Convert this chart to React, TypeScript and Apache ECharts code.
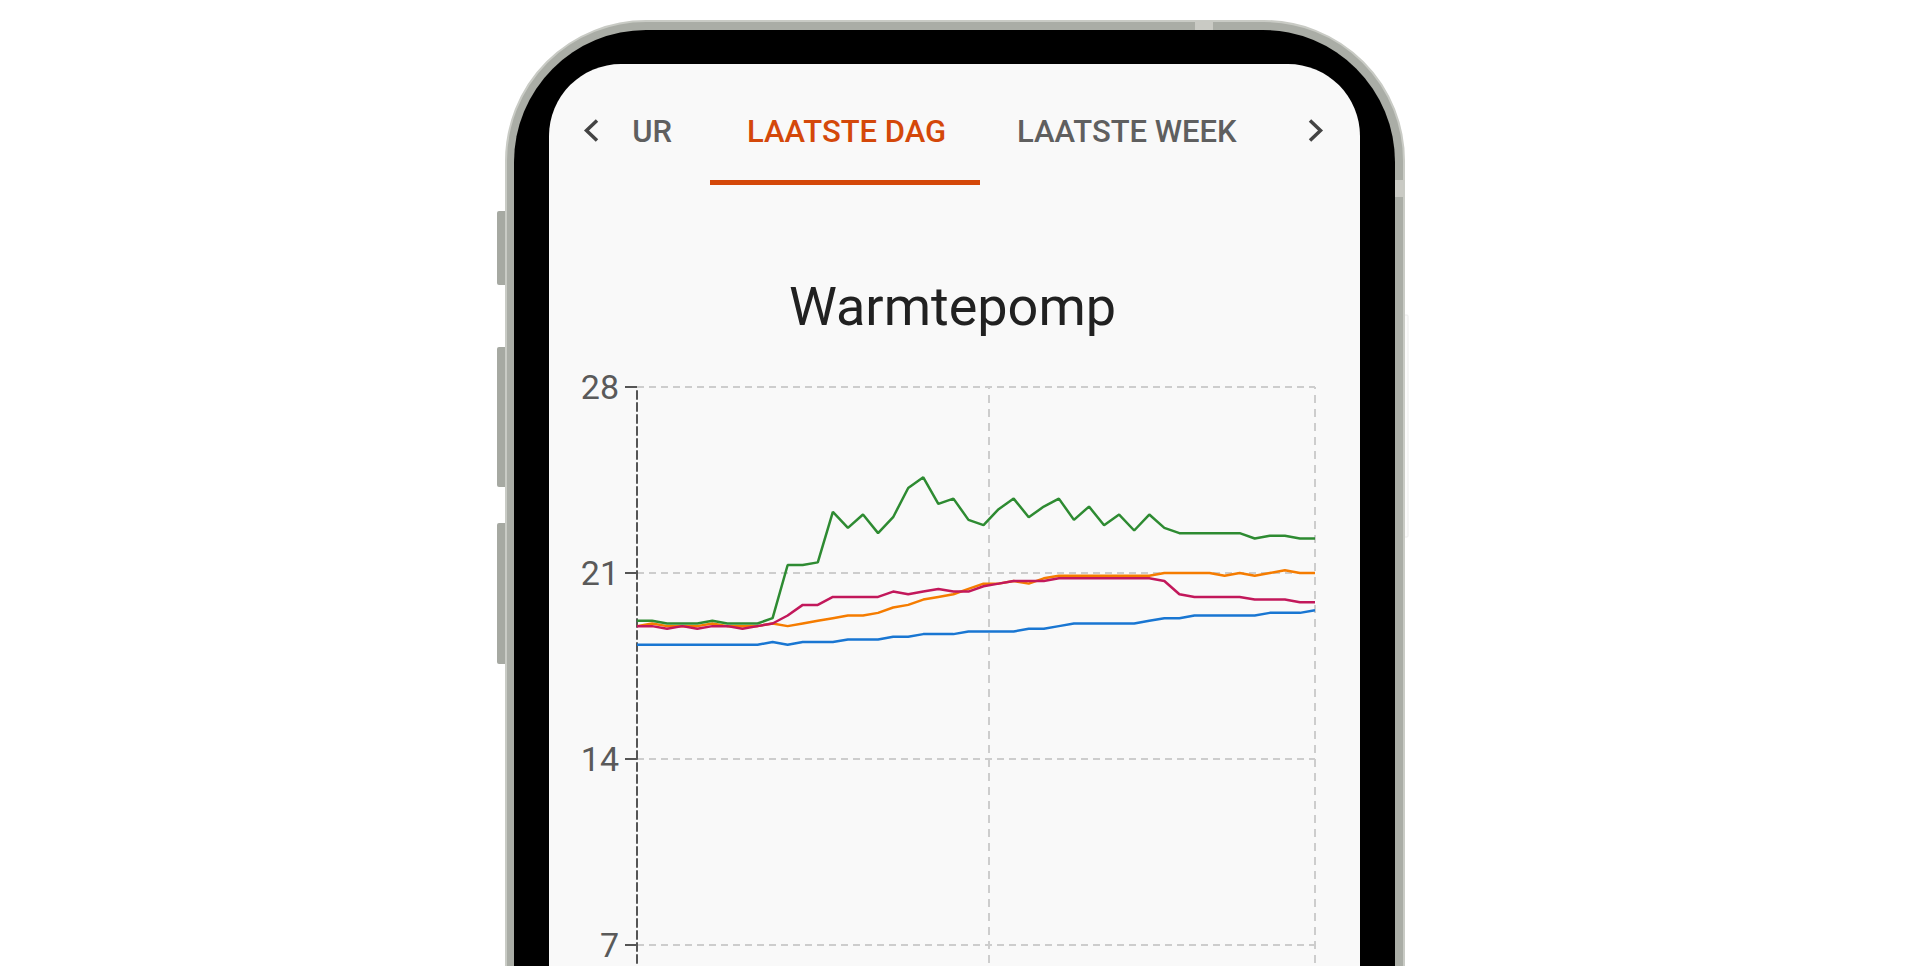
import React, { useEffect, useRef } from 'react';
import * as echarts from 'echarts';

// Sample times (30 min apart, rolling over midnight)
const times = [
  '12:20', '12:50', '13:20', '13:50', '14:20', '14:50', '15:20', '15:50', '16:20', '16:50',
  '17:20', '17:50', '18:20', '18:50', '19:20', '19:50', '20:20', '20:50', '21:20', '21:50',
  '22:20', '22:50', '23:20', '23:50', '00:20', '00:50', '01:20', '01:50', '02:20', '02:50',
  '03:20', '03:50', '04:20', '04:50', '05:20', '05:50', '06:20', '06:50', '07:20', '07:50',
  '08:20', '08:50', '09:20', '09:50', '10:20', '10:50',
];

const greenValues = [
  19.2, 19.2, 19.1, 19.1, 19.1, 19.2, 19.1, 19.1, 19.1, 19.3,
  21.3, 21.3, 21.4, 23.3, 22.7, 23.2, 22.5, 23.1, 24.2, 24.6,
  23.6, 23.8, 23.0, 22.8, 23.4, 23.8, 23.1, 23.5, 23.8, 23.0,
  23.5, 22.8, 23.2, 22.6, 23.2, 22.7, 22.5, 22.5, 22.5, 22.5,
  22.5, 22.3, 22.4, 22.4, 22.3, 22.3,
];
const orangeValues = [
  19.0, 19.1, 19.0, 19.0, 19.0, 19.1, 19.0, 19.0, 19.0, 19.1,
  19.0, 19.1, 19.2, 19.3, 19.4, 19.4, 19.5, 19.7, 19.8, 20.0,
  20.1, 20.2, 20.4, 20.6, 20.6, 20.7, 20.6, 20.8, 20.9, 20.9,
  20.9, 20.9, 20.9, 20.9, 20.9, 21.0, 21.0, 21.0, 21.0, 20.9,
  21.0, 20.9, 21.0, 21.1, 21.0, 21.0,
];
const crimsonValues = [
  19.0, 19.0, 18.9, 19.0, 18.9, 19.0, 19.0, 18.9, 19.0, 19.1,
  19.4, 19.8, 19.8, 20.1, 20.1, 20.1, 20.1, 20.3, 20.2, 20.3,
  20.4, 20.3, 20.3, 20.5, 20.6, 20.7, 20.7, 20.7, 20.8, 20.8,
  20.8, 20.8, 20.8, 20.8, 20.8, 20.7, 20.2, 20.1, 20.1, 20.1,
  20.1, 20.0, 20.0, 20.0, 19.9, 19.9,
];
const blueValues = [
  18.3, 18.3, 18.3, 18.3, 18.3, 18.3, 18.3, 18.3, 18.3, 18.4,
  18.3, 18.4, 18.4, 18.4, 18.5, 18.5, 18.5, 18.6, 18.6, 18.7,
  18.7, 18.7, 18.8, 18.8, 18.8, 18.8, 18.9, 18.9, 19.0, 19.1,
  19.1, 19.1, 19.1, 19.1, 19.2, 19.3, 19.3, 19.4, 19.4, 19.4,
  19.4, 19.4, 19.5, 19.5, 19.5, 19.6,
];

const yTicks = [0, 7, 14, 21, 28];
const chartTitle = 'Warmtepomp';
const tabLabels = ['UR', 'LAATSTE DAG', 'LAATSTE WEEK'];

const CHART_H = 1200;

function toTimestamps(list: string[]): number[] {
  let day = 14;
  let prevH = -1;
  return list.map((t) => {
    const [h, m] = t.split(':').map(Number);
    if (h < prevH) day += 1;
    prevH = h;
    return new Date(2024, 0, day, h, m).getTime();
  });
}

export default function App() {
  const ref = useRef<HTMLDivElement>(null);

  useEffect(() => {
    if (!ref.current) return;
    const chart = echarts.init(ref.current, undefined, { renderer: 'svg' });
    const ts = toTimestamps(times);
    const midnight = new Date(2024, 0, 15, 0, 0).getTime();
    const pair = (vals: number[]) => vals.map((v, i) => [ts[i], v]);

    const orange = '#f57c00';
    const blue = '#1976d2';
    const crimson = '#c2185b';
    const green = '#2e8b32';
    const accent = '#d4480a';

    const text = (x: number, y: number, t: string, size: number, fill: string, align: string, weight: any = 'normal') => ({
      type: 'text',
      z: 10,
      x,
      y,
      style: {
        text: t,
        fontSize: size,
        fontFamily: 'Roboto',
        fontWeight: weight,
        fill,
        align,
        verticalAlign: 'middle',
        textAlign: align,
        textVerticalAlign: 'middle',
      },
    });

    const graphic: any[] = [
      // side buttons
      { type: 'rect', z: -14, shape: { x: 497, y: 211, width: 10, height: 74, r: 2 }, style: { fill: '#a6a9a2' } },
      { type: 'rect', z: -14, shape: { x: 497, y: 347, width: 10, height: 140, r: 2 }, style: { fill: '#a6a9a2' } },
      { type: 'rect', z: -14, shape: { x: 497, y: 523, width: 10, height: 141, r: 2 }, style: { fill: '#a6a9a2' } },
      { type: 'rect', z: -14, shape: { x: 1403, y: 315, width: 5, height: 222, r: 1 }, style: { fill: '#fbfbfb', stroke: '#ececec', lineWidth: 1 } },
      // outer frame
      { type: 'rect', z: -13, shape: { x: 506, y: 21, width: 898, height: 1100, r: 140 }, style: { fill: '#aaada6', stroke: '#c9cbc5', lineWidth: 2 } },
      { type: 'rect', z: -13, shape: { x: 1195, y: 21, width: 18, height: 9 }, style: { fill: '#c9cac4' } },
      { type: 'rect', z: -13, shape: { x: 1395, y: 180, width: 9, height: 17 }, style: { fill: '#c9cac4' } },
      // bezel
      { type: 'rect', z: -12, shape: { x: 514, y: 30, width: 881, height: 1100, r: 132 }, style: { fill: '#000000' } },
      // screen
      { type: 'rect', z: -11, shape: { x: 549, y: 64, width: 811, height: 1100, r: 72 }, style: { fill: '#f9f9f9' } },
      // tabs
      { type: 'polyline', z: 10, shape: { points: [[597, 120.5], [586.5, 130.5], [597, 140.5]] }, style: { stroke: '#444444', lineWidth: 3.5, fill: null } },
      { type: 'polyline', z: 10, shape: { points: [[1310, 120.5], [1320.5, 130.5], [1310, 140.5]] }, style: { stroke: '#444444', lineWidth: 3.5, fill: null } },
      text(672, 131, tabLabels[0], 31, '#5f5f5f', 'right', 500),
      text(747, 131, tabLabels[1], 31, accent, 'left', 500),
      text(1017, 131, tabLabels[2], 31, '#5f5f5f', 'left', 500),
      { type: 'rect', z: 10, shape: { x: 710, y: 180, width: 270, height: 5 }, style: { fill: accent } },
      // title
      text(952.5, 306, chartTitle, 54, '#212121', 'center', 'normal'),
    ];

    const gridLine = { color: '#cdcdcd', width: 2, type: [7, 5] as any };

    chart.setOption({
      animation: false,
      backgroundColor: '#ffffff',
      graphic,
      grid: { left: 637, right: 1920 - 1315, top: 387, bottom: CHART_H - 1131, containLabel: false },
      xAxis: {
        type: 'time',
        min: ts[0],
        max: ts[ts.length - 1],
        axisLine: { show: false },
        axisTick: { show: false },
        axisLabel: { show: false },
        splitLine: { show: false },
      },
      yAxis: {
        type: 'value',
        min: yTicks[0],
        max: yTicks[yTicks.length - 1],
        interval: 7,
        axisLine: { show: true, lineStyle: { color: '#555555', width: 2, type: [8, 4] } },
        axisTick: { show: true, length: 12, lineStyle: { color: '#555555', width: 2 } },
        axisLabel: { fontSize: 34, color: '#5a5a5a', fontFamily: 'Roboto', margin: 18 },
        splitLine: { show: true, lineStyle: gridLine },
      },
      series: [
        {
          name: 'Oranje',
          type: 'line',
          data: pair(orangeValues),
          showSymbol: false,
          lineStyle: { color: orange, width: 2.5 },
          itemStyle: { color: orange },
          markLine: {
            silent: true,
            symbol: ['none', 'none'],
            label: { show: false },
            lineStyle: { color: '#cdcdcd', width: 2, type: [8, 6] },
            data: [{ xAxis: midnight }, { xAxis: ts[ts.length - 1] }],
            z: 0,
          },
        },
        { name: 'Blauw', type: 'line', data: pair(blueValues), showSymbol: false, lineStyle: { color: blue, width: 2.5 }, itemStyle: { color: blue } },
        { name: 'Rood', type: 'line', data: pair(crimsonValues), showSymbol: false, lineStyle: { color: crimson, width: 2.5 }, itemStyle: { color: crimson } },
        { name: 'Groen', type: 'line', data: pair(greenValues), showSymbol: false, lineStyle: { color: green, width: 2.5 }, itemStyle: { color: green } },
      ],
    });

    return () => chart.dispose();
  }, []);

  return (
    <div style={{ position: 'fixed', left: 0, top: 0, width: 1920, height: 966, overflow: 'hidden', background: '#fff' }}>
      <div ref={ref} style={{ width: 1920, height: CHART_H }} />
    </div>
  );
}
